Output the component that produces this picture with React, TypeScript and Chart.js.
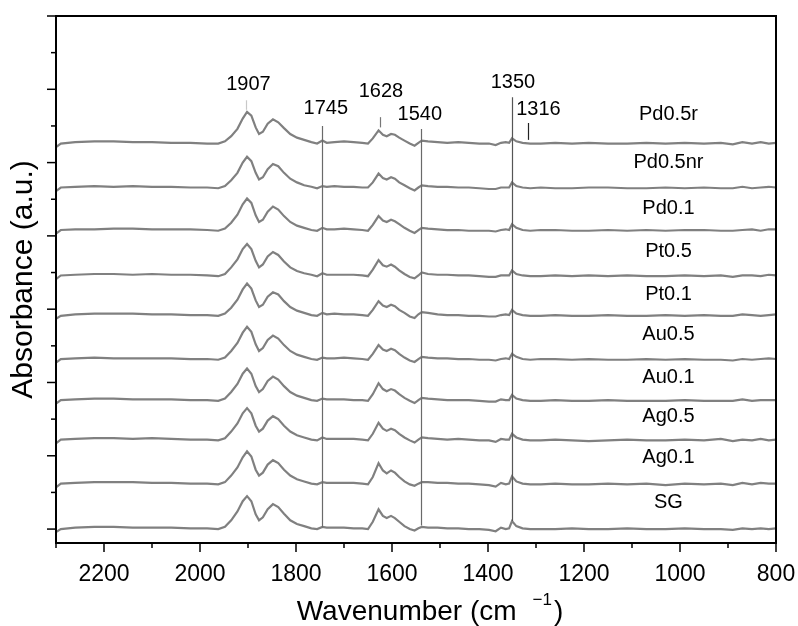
import React, { useEffect, useRef } from 'react';
import { Chart, registerables } from 'chart.js';

Chart.register(...registerables);

const FONT = "'Liberation Sans', Arial, Helvetica, sans-serif";

// Wavenumber grid (cm-1), shared by all spectra
const wavenumbers = [
  2300, 2290, 2260, 2220, 2180, 2140, 2100, 2060, 2020, 1985,
  1962, 1948, 1935, 1922, 1911, 1902, 1893, 1884, 1877, 1869,
  1859, 1848, 1837, 1825, 1812, 1798, 1783, 1768, 1756, 1745,
  1736, 1720, 1700, 1680, 1662, 1650, 1640, 1628, 1619, 1611,
  1602, 1594, 1585, 1574, 1563, 1553, 1545, 1538, 1525, 1505,
  1485, 1462, 1440, 1418, 1398, 1384, 1373, 1363, 1356, 1350,
  1341, 1328, 1312, 1290, 1260, 1225, 1190, 1150, 1110, 1070,
  1030, 990, 950, 915, 890, 870, 850, 832, 815, 800,
];

// Spectra (a.u., relative to own baseline)
const SG = [
  -0.06, -0.02, 0.00, 0.01, 0.01, 0.00, 0.00, 0.00, -0.01, -0.01,
  -0.02, 0.01, 0.10, 0.22, 0.36, 0.43, 0.36, 0.18, 0.10, 0.14,
  0.25, 0.32, 0.28, 0.19, 0.10, 0.05, 0.02, -0.01, -0.02, 0.01,
  0.00, 0.00, 0.00, -0.01, -0.01, -0.02, 0.08, 0.25, 0.16, 0.13,
  0.16, 0.13, 0.08, 0.02, -0.02, -0.04, -0.01, 0.01, 0.00, 0.00,
  -0.01, -0.01, -0.02, -0.02, -0.03, -0.05, 0.00, -0.02, -0.01, 0.09,
  0.02, -0.01, -0.02, -0.02, -0.02, -0.01, -0.02, -0.02, -0.01, -0.02,
  -0.02, -0.01, -0.02, -0.02, -0.03, -0.01, -0.02, -0.01, -0.02, -0.01,
];
const Ag01 = [
  -0.06, -0.01, 0.00, 0.01, 0.01, 0.01, 0.00, 0.00, -0.01, -0.01,
  -0.02, 0.01, 0.10, 0.21, 0.35, 0.43, 0.36, 0.18, 0.10, 0.14,
  0.25, 0.31, 0.27, 0.18, 0.10, 0.05, 0.02, -0.01, -0.02, 0.01,
  0.00, 0.00, 0.00, 0.00, -0.01, -0.02, 0.08, 0.27, 0.17, 0.13,
  0.17, 0.14, 0.08, 0.02, -0.02, -0.04, -0.01, 0.01, 0.01, 0.00,
  0.00, -0.01, -0.01, -0.02, -0.03, -0.05, 0.00, -0.02, -0.01, 0.09,
  0.02, -0.01, -0.02, -0.02, -0.01, -0.02, -0.02, -0.01, -0.02, -0.01,
  -0.03, -0.01, -0.02, -0.01, -0.03, 0.00, -0.02, 0.00, -0.01, -0.01,
];
const Ag05 = [
  -0.06, -0.01, 0.00, 0.01, 0.01, 0.00, 0.01, 0.00, -0.01, -0.01,
  -0.02, 0.01, 0.10, 0.21, 0.35, 0.42, 0.35, 0.18, 0.10, 0.14,
  0.25, 0.31, 0.27, 0.18, 0.10, 0.05, 0.02, -0.01, -0.02, 0.02,
  0.00, 0.00, 0.00, 0.00, -0.01, -0.02, 0.07, 0.22, 0.14, 0.11,
  0.14, 0.12, 0.07, 0.02, -0.02, -0.05, -0.01, 0.02, 0.01, 0.00,
  -0.01, 0.00, -0.01, -0.02, -0.02, -0.04, 0.00, -0.01, -0.01, 0.07,
  0.02, -0.01, -0.02, -0.02, -0.01, -0.02, -0.03, -0.02, -0.01, -0.02,
  -0.02, -0.01, -0.02, 0.00, -0.03, -0.01, -0.02, 0.00, -0.02, -0.01,
];
const Au01 = [
  -0.06, -0.01, 0.00, 0.01, 0.01, 0.00, 0.00, 0.00, -0.01, -0.01,
  -0.02, 0.01, 0.10, 0.21, 0.35, 0.42, 0.35, 0.18, 0.10, 0.14,
  0.25, 0.31, 0.27, 0.18, 0.10, 0.05, 0.02, -0.01, -0.02, 0.01,
  0.00, 0.00, 0.00, -0.01, -0.01, -0.02, 0.07, 0.22, 0.14, 0.11,
  0.14, 0.12, 0.07, 0.02, -0.02, -0.05, -0.01, 0.02, 0.01, 0.00,
  -0.01, -0.01, -0.01, -0.02, -0.03, -0.03, 0.00, -0.01, -0.01, 0.06,
  0.01, -0.01, -0.02, -0.02, -0.01, -0.02, -0.02, -0.01, -0.02, -0.02,
  -0.02, -0.01, -0.02, -0.02, -0.02, 0.00, -0.02, -0.01, -0.01, -0.01,
];
const Au05 = [
  -0.06, -0.01, 0.00, 0.01, 0.00, 0.00, 0.00, 0.00, -0.01, -0.01,
  -0.02, 0.01, 0.10, 0.21, 0.35, 0.43, 0.36, 0.19, 0.10, 0.14,
  0.25, 0.31, 0.27, 0.18, 0.10, 0.05, 0.02, -0.01, -0.02, 0.01,
  0.00, 0.00, 0.01, 0.00, -0.01, -0.02, 0.06, 0.18, 0.12, 0.10,
  0.13, 0.11, 0.06, 0.01, -0.03, -0.05, -0.01, 0.02, 0.01, 0.00,
  0.00, -0.01, -0.01, -0.02, -0.02, -0.03, -0.01, 0.00, -0.01, 0.06,
  0.02, -0.01, -0.02, -0.01, -0.01, -0.02, -0.01, -0.02, -0.02, -0.01,
  -0.02, -0.01, -0.02, -0.02, -0.03, -0.01, -0.02, -0.01, 0.00, -0.01,
];
const Pt01 = [
  -0.06, -0.02, 0.00, 0.01, 0.01, 0.01, 0.00, 0.00, -0.01, -0.01,
  -0.02, 0.01, 0.09, 0.20, 0.34, 0.42, 0.35, 0.19, 0.10, 0.13,
  0.24, 0.30, 0.27, 0.18, 0.10, 0.05, 0.02, -0.01, -0.02, 0.02,
  0.00, 0.01, 0.00, 0.00, -0.01, -0.02, 0.06, 0.18, 0.12, 0.10,
  0.13, 0.11, 0.06, 0.02, -0.03, -0.05, 0.00, 0.03, 0.02, 0.00,
  -0.01, -0.01, -0.02, -0.02, -0.03, -0.03, -0.01, 0.00, -0.01, 0.06,
  0.01, -0.01, -0.02, -0.02, -0.01, -0.02, -0.02, -0.01, -0.02, -0.02,
  -0.01, -0.02, -0.01, -0.02, -0.02, 0.00, -0.01, -0.02, -0.01, 0.00,
];
const Pt05 = [
  -0.06, -0.01, 0.00, 0.01, 0.01, 0.00, 0.01, 0.00, 0.00, -0.01,
  -0.02, 0.01, 0.10, 0.21, 0.35, 0.42, 0.35, 0.19, 0.10, 0.14,
  0.25, 0.31, 0.27, 0.18, 0.10, 0.05, 0.02, 0.00, -0.02, 0.02,
  0.00, 0.00, 0.00, 0.00, -0.01, -0.02, 0.07, 0.20, 0.13, 0.11,
  0.14, 0.11, 0.06, 0.01, -0.03, -0.05, -0.01, 0.03, 0.01, 0.00,
  0.00, -0.01, -0.01, -0.02, -0.03, -0.03, -0.01, -0.01, -0.01, 0.06,
  0.01, -0.01, -0.02, -0.02, -0.01, -0.02, -0.01, -0.02, -0.01, -0.02,
  -0.02, -0.01, -0.02, -0.01, -0.03, -0.01, -0.01, -0.02, 0.00, -0.01,
];
const Pd01 = [
  -0.06, -0.01, 0.00, 0.00, 0.01, 0.01, 0.00, 0.00, 0.00, -0.01,
  -0.02, 0.01, 0.09, 0.20, 0.34, 0.42, 0.36, 0.19, 0.10, 0.13,
  0.24, 0.31, 0.27, 0.18, 0.10, 0.05, 0.02, -0.01, -0.02, 0.02,
  0.00, 0.00, 0.01, 0.00, -0.01, -0.02, 0.06, 0.18, 0.12, 0.10,
  0.13, 0.11, 0.07, 0.02, -0.02, -0.05, -0.01, 0.02, 0.01, 0.00,
  -0.01, -0.01, -0.02, -0.02, -0.02, -0.03, -0.01, 0.00, -0.01, 0.07,
  0.02, -0.01, -0.02, -0.01, -0.01, -0.02, -0.02, -0.01, -0.02, -0.01,
  -0.02, -0.01, -0.01, -0.02, -0.02, -0.01, 0.00, -0.02, 0.00, 0.00,
];
const Pd05nr = [
  -0.06, -0.01, 0.00, 0.01, 0.00, 0.01, 0.00, 0.00, -0.01, -0.01,
  -0.02, 0.01, 0.09, 0.19, 0.33, 0.41, 0.35, 0.19, 0.10, 0.13,
  0.24, 0.31, 0.28, 0.19, 0.11, 0.06, 0.02, 0.00, -0.02, 0.01,
  0.00, 0.01, 0.00, 0.00, -0.01, -0.01, 0.06, 0.18, 0.12, 0.10,
  0.13, 0.11, 0.06, 0.02, -0.02, -0.05, -0.01, 0.02, 0.01, 0.00,
  0.00, -0.01, -0.01, -0.02, -0.03, -0.03, -0.01, -0.01, -0.01, 0.06,
  0.01, -0.01, -0.02, -0.01, -0.02, -0.02, -0.01, -0.01, -0.02, -0.02,
  -0.01, -0.02, -0.01, -0.02, -0.02, 0.00, -0.02, -0.01, 0.00, -0.01,
];
const Pd05r = [
  -0.07, -0.02, 0.00, 0.01, 0.01, 0.00, 0.00, -0.01, -0.01, -0.02,
  -0.02, 0.01, 0.08, 0.18, 0.32, 0.41, 0.36, 0.20, 0.11, 0.14,
  0.25, 0.31, 0.27, 0.19, 0.11, 0.06, 0.03, 0.00, -0.02, 0.02,
  -0.01, 0.00, 0.01, 0.00, -0.01, -0.02, 0.05, 0.16, 0.10, 0.08,
  0.11, 0.10, 0.06, 0.02, -0.02, -0.05, -0.01, 0.02, 0.01, 0.00,
  -0.01, 0.00, -0.01, -0.02, -0.02, -0.04, -0.01, 0.00, -0.01, 0.05,
  0.01, -0.01, -0.02, -0.02, -0.01, -0.02, -0.01, -0.02, -0.02, -0.01,
  -0.02, -0.01, -0.02, -0.01, -0.03, 0.00, -0.02, 0.00, -0.02, -0.01,
];

const sampleNames = ['SG', 'Ag0.1', 'Ag0.5', 'Au0.1', 'Au0.5', 'Pt0.1', 'Pt0.5', 'Pd0.1', 'Pd0.5nr', 'Pd0.5r'];
const sampleSpectra = [SG, Ag01, Ag05, Au01, Au05, Pt01, Pt05, Pd01, Pd05nr, Pd05r];
const sampleOffsets = [0.02, 0.63, 1.23, 1.77, 2.33, 2.93, 3.47, 4.09, 4.67, 5.28];
const sampleLabelLevels = [0.36, 0.97, 1.53, 2.07, 2.65, 3.2, 3.79, 4.38, 5.0, 5.65];
const sampleLabelWavenumber = 1024;

// Peak marker lines
const markWavenumbers = [1905, 1745, 1626, 1540, 1350, 1316];
const markTops = [5.85, 5.5, 5.62, 5.46, 5.89, 5.54];
const markBottoms = [5.72, 0.02, 5.48, 0.05, 0.11, 5.31];
const markColors = ['#c8c8c8', '#6a6a6a', '#777777', '#6a6a6a', '#555555', '#222222'];

// Peak labels
const peakTexts = ['1907', '1745', '1628', '1540', '1350', '1316'];
const peakTextWavenumbers = [1899, 1738, 1623, 1542, 1348, 1295];
const peakTextLevels = [6.06, 5.74, 5.97, 5.65, 6.09, 5.72];

// Axis ranges
const xMin = 800;
const xMax = 2300;
const yMin = -0.19;
const yMax = 7.0;

const decorPlugin = {
  id: 'decor',
  afterDraw(chart: any) {
    const { ctx, chartArea } = chart;
    const xs = chart.scales.x;
    const ys = chart.scales.y;
    ctx.save();

    // marker lines
    markWavenumbers.forEach((w, i) => {
      const px = Math.round(xs.getPixelForValue(w)) + 0.5;
      ctx.beginPath();
      ctx.strokeStyle = markColors[i];
      ctx.lineWidth = 1.2;
      ctx.moveTo(px, ys.getPixelForValue(markTops[i]));
      ctx.lineTo(px, ys.getPixelForValue(markBottoms[i]));
      ctx.stroke();
    });

    // peak labels
    ctx.fillStyle = '#000';
    ctx.font = `20px ${FONT}`;
    ctx.textAlign = 'center';
    ctx.textBaseline = 'middle';
    peakTexts.forEach((t, i) => {
      ctx.fillText(t, xs.getPixelForValue(peakTextWavenumbers[i]), ys.getPixelForValue(peakTextLevels[i]));
    });

    // sample labels
    ctx.font = `20px ${FONT}`;
    sampleNames.forEach((n, i) => {
      ctx.fillText(n, xs.getPixelForValue(sampleLabelWavenumber), ys.getPixelForValue(sampleLabelLevels[i]));
    });

    // frame
    ctx.strokeStyle = '#000';
    ctx.lineWidth = 2;
    ctx.strokeRect(chartArea.left, chartArea.top, chartArea.right - chartArea.left, chartArea.bottom - chartArea.top);

    // x ticks (outward)
    ctx.lineWidth = 1.5;
    for (let v = xMin; v <= xMax; v += 100) {
      const px = xs.getPixelForValue(v);
      const len = v % 200 === 0 ? 9 : 5;
      ctx.beginPath();
      ctx.moveTo(px, chartArea.bottom);
      ctx.lineTo(px, chartArea.bottom + len);
      ctx.stroke();
    }
    // y ticks (outward)
    for (let k = 0; k <= 14; k++) {
      const v = k * 0.5;
      const py = ys.getPixelForValue(v);
      const len = k % 2 === 0 ? 9 : 5;
      ctx.beginPath();
      ctx.moveTo(chartArea.left, py);
      ctx.lineTo(chartArea.left - len, py);
      ctx.stroke();
    }

    // x title with superscript
    const main1 = 'Wavenumber (cm';
    const sup = '\u22121';
    const close = ')';
    ctx.font = `28px ${FONT}`;
    const w1 = ctx.measureText(main1).width;
    const w3 = ctx.measureText(close).width;
    ctx.font = `17px ${FONT}`;
    const w2 = ctx.measureText(sup).width;
    const gap1 = 16;
    const gap2 = 2;
    const total = w1 + gap1 + w2 + gap2 + w3;
    const cx = 430;
    let x0 = cx - total / 2;
    const base = 620;
    ctx.textAlign = 'left';
    ctx.textBaseline = 'alphabetic';
    ctx.font = `28px ${FONT}`;
    ctx.fillText(main1, x0, base);
    x0 += w1 + gap1;
    ctx.font = `17px ${FONT}`;
    ctx.fillText(sup, x0, base - 15);
    x0 += w2 + gap2;
    ctx.font = `28px ${FONT}`;
    ctx.fillText(close, x0, base);

    ctx.restore();
  },
};

export default function App() {
  const ref = useRef<HTMLCanvasElement>(null);

  useEffect(() => {
    if (!ref.current) return;
    const datasets = sampleSpectra.map((spec, si) => ({
      label: sampleNames[si],
      data: wavenumbers.map((w, i) => ({ x: w, y: spec[i] + sampleOffsets[si] })),
      borderColor: '#808080',
      borderWidth: 2.2,
      pointRadius: 0,
      tension: 0,
      fill: false,
    }));
    const chart = new Chart(ref.current, {
      type: 'line',
      data: { datasets },
      options: {
        responsive: false,
        animation: false,
        devicePixelRatio: 1,
        layout: { padding: { top: 16, right: 22, left: 0, bottom: 0 } },
        plugins: { legend: { display: false }, tooltip: { enabled: false } },
        scales: {
          x: {
            type: 'linear',
            min: xMin,
            max: xMax,
            reverse: true,
            grid: { display: false, drawTicks: false },
            border: { display: false },
            ticks: {
              stepSize: 100,
              autoSkip: false,
              maxRotation: 0,
              padding: 18,
              color: '#000',
              font: { size: 23, family: FONT },
              callback: (v: any) => (Number(v) % 200 === 0 ? String(v) : ''),
            },
            afterFit: (axis: any) => {
              axis.height = 83;
              axis.paddingLeft = 0;
              axis.paddingRight = 0;
            },
          },
          y: {
            type: 'linear',
            min: yMin,
            max: yMax,
            grid: { display: false, drawTicks: false },
            border: { display: false },
            ticks: { display: false },
            title: {
              display: true,
              text: 'Absorbance (a.u.)',
              color: '#000',
              font: { size: 30, family: FONT },
              padding: { top: 6, bottom: 0 },
            },
            afterFit: (axis: any) => {
              axis.width = 56;
              axis.paddingTop = 0;
              axis.paddingBottom = 0;
            },
          },
        },
      },
      plugins: [decorPlugin],
    });
    return () => chart.destroy();
  }, []);

  return (
    <div style={{ position: 'fixed', left: 0, top: 0, width: 798, height: 626, background: '#fff' }}>
      <canvas ref={ref} width={798} height={626} style={{ width: 798, height: 626 }} />
    </div>
  );
}
